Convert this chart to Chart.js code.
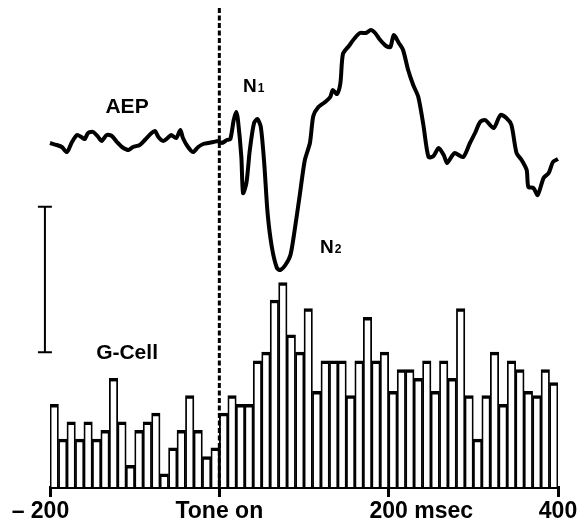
<!DOCTYPE html>
<html lang="en">
<head>
<meta charset="UTF-8">
<title>AEP und G-Cell</title>
<style>
    html, body { margin: 0; padding: 0; background: #fff; }
    #wrap { width: 578px; height: 532px; }
</style>
</head>
<body>
<div id="wrap"><canvas id="chart" width="578" height="532"></canvas></div>

<script src="https://cdn.jsdelivr.net/npm/chart.js@4.4.1/dist/chart.umd.min.js"></script>
<script>
// histogram bins: start of each 10 ms bin and spike count in it
const binStart = [
    -200, -190, -180, -170, -160, -150, -140, -130, -120, -110,
    -100, -90, -80, -70, -60, -50, -40, -30, -20, -10,
    0, 10, 20, 30, 40, 50, 60, 70, 80, 90,
    100, 110, 120, 130, 140, 150, 160, 170, 180, 190,
    200, 210, 220, 230, 240, 250, 260, 270, 280, 290,
    300, 310, 320, 330, 340, 350, 360, 370, 380, 390
];
const spikeCounts = [
    9, 5, 7, 5, 7, 5, 6, 12, 7, 2,
    6, 7, 8, 1, 4, 6, 10, 6, 3, 4,
    8, 10, 9, 9, 14, 15, 21, 23, 17, 15,
    20, 10.5, 14, 14, 14, 10, 14, 19, 14, 15,
    10.5, 13, 13, 12, 14, 10.5, 14, 12, 20, 10,
    5, 10, 15, 9, 14, 13, 10.5, 10, 13, 11.5
];

// AEP trace (ms, amplitude in arbitrary units, up = positive)
const aepTime = [
    -200, -192, -186, -180, -174, -168, -163, -159, -155, -149,
    -143, -139, -133, -127, -121, -115, -107, -102, -94, -88,
    -80, -76, -72, -66, -61, -57, -51, -46, -43, -37,
    -31, -25, -19, -13, -7, -1, 3, 9, 13, 17,
    20, 22, 26, 28, 32, 36, 41, 45, 49, 53,
    57, 62, 68, 72, 78, 84, 89, 95, 101, 107,
    111, 117, 125, 131, 134, 139, 143, 146, 153, 160,
    166, 173, 179, 184, 190, 197, 202, 206, 212, 217,
    223, 229, 235, 241, 247, 253, 259, 265, 269, 274,
    278, 288, 296, 302, 308, 314, 324, 332, 339, 345,
    351, 357, 363, 365, 371, 376, 383, 389, 394, 400
];
const aepAmp = [
    0.2, 0, -0.2, -0.7, 0.3, 1.0, 0.8, 0.6, 1.2, 1.3,
    0.8, 0.4, 1.0, 0.9, 0.3, -0.2, -0.5, -0.2, 0, 0.5,
    1.2, 1.4, 0.8, 0.4, 0.7, 1.0, 0.7, 1.5, 0.7, -0.2,
    -0.7, -0.2, 0.1, 0.2, 0.3, 0.4, 0.2, 0.5, 0.6, 2.5,
    3.3, 2.5, -1.2, -4.8, -3.8, -0.5, 2.2, 2.6, 1.8, -1.8,
    -6.8, -10.2, -12.3, -12.5, -12.0, -11.0, -8.5, -5.0, -1.5, 0.2,
    2.9, 3.8, 4.3, 4.8, 5.5, 5.1, 6.2, 9.1, 9.9, 10.7,
    11.2, 11.2, 11.5, 11.2, 10.5, 9.9, 9.8, 11.0, 10.2, 9.5,
    7.5, 6.0, 4.8, 2.0, -1.2, -1.1, -0.3, -1.0, -1.8, -1.2,
    -0.8, -1.2, 0.2, 1.2, 2.3, 2.5, 1.7, 3.0, 2.7, 2.0,
    -0.8, -1.5, -2.5, -4.2, -4.3, -5.0, -3.3, -2.8, -1.7, -1.4
];

// x axis ticks: number part is centred on the tick
const tickValues = [-200, 0, 200, 400];
const tickPrefix = ['– ', '', '', ''];
const tickCore = ['200', 'Tone on', '200', '400'];
const tickSuffix = ['', '', ' msec', ''];

const FONT = '"Liberation Sans", Arial, sans-serif';

// Zusatz: Reizlinie, Eichbalken, Beschriftungen
const figureText = {
    id: 'figureText',
    afterDatasetsDraw(chart) {
        const { ctx, chartArea, scales: { x, y, y2 } } = chart;
        ctx.save();
        ctx.strokeStyle = '#000';
        ctx.fillStyle = '#000';

        // tone onset
        const x0 = x.getPixelForValue(0);
        ctx.lineWidth = 3;
        ctx.setLineDash([5, 2.5]);
        ctx.beginPath();
        ctx.moveTo(x0, chartArea.top);
        ctx.lineTo(x0, chartArea.bottom);
        ctx.stroke();
        ctx.setLineDash([]);

        // calibration bar
        const sx = x.getPixelForValue(-206);
        const sTop = y.getPixelForValue(31.7);
        const sBot = y.getPixelForValue(15);
        ctx.lineWidth = 2;
        ctx.beginPath();
        ctx.moveTo(sx, sTop); ctx.lineTo(sx, sBot);
        ctx.moveTo(sx - 7, sTop); ctx.lineTo(sx + 7, sTop);
        ctx.moveTo(sx - 7, sBot); ctx.lineTo(sx + 7, sBot);
        ctx.stroke();

        // labels
        ctx.textBaseline = 'alphabetic';
        ctx.textAlign = 'center';
        ctx.font = 'bold 21px ' + FONT;
        ctx.fillText('AEP', x.getPixelForValue(-109), y2.getPixelForValue(3.2));
        ctx.fillText('G-Cell', x.getPixelForValue(-109), y.getPixelForValue(14.2));

        const sub = (main, idx, t, a) => {
            const px = x.getPixelForValue(t);
            const py = y2.getPixelForValue(a);
            ctx.textAlign = 'left';
            ctx.font = 'bold 19px ' + FONT;
            ctx.fillText(main, px, py);
            const w = ctx.measureText(main).width;
            ctx.font = 'bold 12px ' + FONT;
            ctx.fillText(idx, px + w + 1, py);
        };
        sub('N', '1', 28, 5.3);
        sub('N', '2', 119, -10.8);

        // tick labels
        ctx.font = 'bold 23px ' + FONT;
        const ty = chartArea.bottom + 31;
        tickValues.forEach((v, i) => {
            const px = x.getPixelForValue(v);
            const half = ctx.measureText(tickCore[i]).width / 2;
            ctx.textAlign = 'center';
            ctx.fillText(tickCore[i], px, ty);
            ctx.textAlign = 'right';
            ctx.fillText(tickPrefix[i], px - half, ty);
            ctx.textAlign = 'left';
            ctx.fillText(tickSuffix[i], px + half, ty);
        });
        ctx.restore();
    }
};

new Chart(document.getElementById('chart'), {
    type: 'bar',
    data: {
        datasets: [
            {
                type: 'line',
                label: 'AEP',
                data: aepTime.map((t, i) => ({ x: t, y: aepAmp[i] })),
                yAxisID: 'y2',
                borderColor: '#000',
                borderWidth: 4,
                pointRadius: 0,
                tension: 0.25,
                clip: false,
            },
            {
                label: 'G-Cell',
                data: binStart.map((t, i) => ({ x: t + 5, y: spikeCounts[i] })),
                yAxisID: 'y',
                backgroundColor: '#fff',
                borderColor: '#000',
                borderWidth: { top: 3.5, left: 1.8, right: 1.8, bottom: 0 },
                base: -0.5,
                categoryPercentage: 1,
                barPercentage: 1,
            },
        ],
    },
    options: {
        responsive: false,
        animation: false,
        layout: { padding: { left: 50, right: 20, top: 8, bottom: 35 } },
        plugins: { legend: { display: false }, tooltip: { enabled: false } },
        scales: {
            x: {
                type: 'linear',
                min: -200,
                max: 400,
                offset: false,
                afterBuildTicks: s => { s.ticks = tickValues.map(v => ({ value: v })); },
                ticks: { display: false },
                grid: { offset: false, drawOnChartArea: false, drawTicks: true, tickLength: 10, color: '#000', lineWidth: 3 },
                border: { display: true, color: '#000', width: 3 },
            },
            y: { display: false, min: -0.5, max: 54.56 },
            y2: { display: false, min: -34.2, max: 13.7 },
        },
    },
    plugins: [figureText],
});
</script>
</body>
</html>
